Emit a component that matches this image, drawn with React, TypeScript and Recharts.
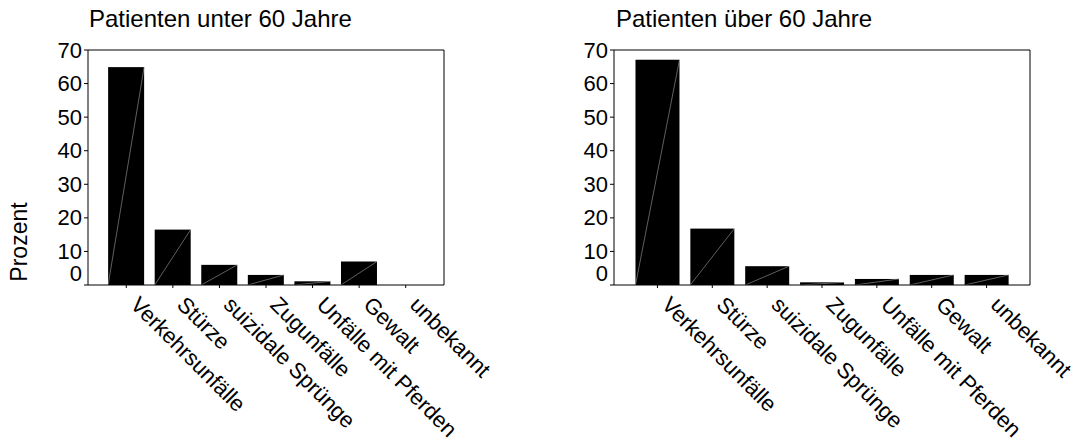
import React from 'react';
import { BarChart, Bar, XAxis, YAxis, Label } from 'recharts';

const categories = [
  'Verkehrsunfälle',
  'Stürze',
  'suizidale Sprünge',
  'Zugunfälle',
  'Unfälle mit Pferden',
  'Gewalt',
  'unbekannt',
];
const under60 = [64.9, 16.5, 6.0, 3.0, 1.1, 7.0, 0];
const over60 = [67.1, 16.8, 5.6, 0.8, 1.8, 3.0, 3.0];
const yTicks = [0, 10, 20, 30, 40, 50, 60, 70];
const titles = ['Patienten unter 60 Jahre', 'Patienten über 60 Jahre'];
const yLabel = 'Prozent';

const FONT = '"Liberation Sans", Arial, Helvetica, sans-serif';

const dataUnder = categories.map((name, i) => ({ name, value: under60[i] }));
const dataOver = categories.map((name, i) => ({ name, value: over60[i] }));

const BarShape = (props: any) => {
  const { x, y, width, height } = props;
  if (!height || height <= 0) return <g />;
  return (
    <g>
      <rect x={x} y={y} width={width} height={height} fill="#000" />
      <line x1={x} y1={y + height} x2={x + width} y2={y} stroke="#a0a0a0" strokeWidth={0.6} />
    </g>
  );
};

const YTick = (props: any) => {
  const { x, y, payload } = props;
  const dy = payload.value === 0 ? -12 : 0;
  return (
    <text x={x} y={y + dy} textAnchor="end" dominantBaseline="central" fontSize={22} fontFamily={FONT} fill="#000">
      {payload.value}
    </text>
  );
};

const XTick = (props: any) => {
  const { x, y, payload } = props;
  const ax = x + 3;
  const ay = y + 16;
  return (
    <text x={ax} y={ay} transform={`rotate(45, ${ax}, ${ay})`} textAnchor="start" fontSize={22} fontFamily={FONT} fill="#000">
      {payload.value}
    </text>
  );
};

type PanelProps = {
  data: { name: string; value: number }[];
  width: number;
  marginLeft: number;
  marginRight: number;
  gap: string;
  pad: number;
  showYLabel: boolean;
};

const Panel = ({ data, width, marginLeft, marginRight, gap, pad, showYLabel }: PanelProps) => (
  <BarChart
    width={width}
    height={443}
    data={data}
    margin={{ top: 40, right: marginRight - 10, bottom: 128, left: marginLeft }}
    barCategoryGap={gap}
  >
    <XAxis
      dataKey="name"
      height={30}
      interval={0}
      padding={{ left: pad, right: pad }}
      axisLine={{ stroke: '#000', strokeWidth: 1 }}
      tickLine={{ stroke: '#000', strokeWidth: 1 }}
      tickSize={3}
      tick={<XTick />}
    />
    <XAxis
      xAxisId="top"
      dataKey="name"
      orientation="top"
      height={10}
      tick={false}
      tickLine={false}
      axisLine={{ stroke: '#000', strokeWidth: 1 }}
    />
    <YAxis
      width={40}
      domain={[0, 70]}
      ticks={yTicks}
      interval={0}
      axisLine={{ stroke: '#000', strokeWidth: 1 }}
      tickLine={{ stroke: '#000', strokeWidth: 1 }}
      tickSize={4}
      tick={<YTick />}
    >
      {showYLabel && (
        <Label
          content={() => (
            <text
              x={19}
              y={242}
              transform="rotate(-90, 19, 242)"
              textAnchor="middle"
              dominantBaseline="central"
              fontSize={23}
              fontFamily={FONT}
              fill="#000"
            >
              {yLabel}
            </text>
          )}
        />
      )}
    </YAxis>
    <YAxis
      yAxisId="right"
      orientation="right"
      width={10}
      domain={[0, 70]}
      tick={false}
      tickLine={false}
      axisLine={{ stroke: '#000', strokeWidth: 1 }}
    />
    <Bar dataKey="value" shape={<BarShape />} isAnimationActive={false} />
  </BarChart>
);

const titleStyle = (left: number): React.CSSProperties => ({
  position: 'absolute',
  left,
  top: 7,
  fontSize: 24,
  lineHeight: 1,
  fontFamily: FONT,
  color: '#000',
  whiteSpace: 'nowrap',
});

export default function App() {
  return (
    <div style={{ position: 'absolute', left: 0, top: 0, width: 1083, height: 443, background: '#fff', overflow: 'hidden' }}>
      <div style={{ position: 'absolute', left: 0, top: 0 }}>
        <Panel data={dataUnder} width={540} marginLeft={48} marginRight={96} gap="11%" pad={15} showYLabel />
      </div>
      <div style={{ position: 'absolute', left: 540, top: 0 }}>
        <Panel data={dataOver} width={543} marginLeft={34} marginRight={53} gap="10%" pad={16} showYLabel={false} />
      </div>
      <div style={titleStyle(89)}>{titles[0]}</div>
      <div style={titleStyle(616)}>{titles[1]}</div>
    </div>
  );
}
